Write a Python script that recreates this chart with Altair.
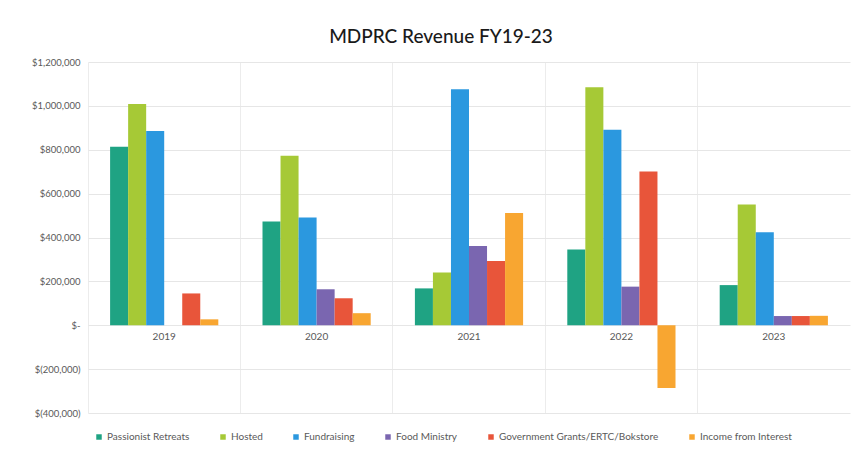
import altair as alt
import pandas as pd

years = ["2019", "2020", "2021", "2022", "2023"]
series = ["Passionist Retreats", "Hosted", "Fundraising", "Food Ministry",
          "Government Grants/ERTC/Bokstore", "Income from Interest"]
colors = ["#1fa383", "#a6c936", "#2b98df", "#7a66b0", "#e8553a", "#f8a631"]

passionist = [814000, 473000, 168000, 345000, 183000]
hosted = [1009000, 773000, 240000, 1085000, 550000]
fundraising = [886000, 491000, 1076000, 891000, 424000]
food = [0, 164000, 361000, 176000, 42000]
grants = [145000, 123000, 293000, 701000, 42000]
interest = [27000, 55000, 512000, -286000, 43000]

values = [passionist, hosted, fundraising, food, grants, interest]
rows = []
for s, vals in zip(series, values):
    for y, v in zip(years, vals):
        rows.append({"Year": y, "Series": s, "Value": v})
df = pd.DataFrame(rows)
labels_df = pd.DataFrame({"Year": years, "Zero": [0] * len(years)})

FONT = "Lato"
xscale = alt.Scale(domain=years, paddingInner=0.29, paddingOuter=0.145)
yscale = alt.Scale(domain=[-400000, 1200000], nice=False)

label_expr = ("datum.value == 0 ? '$-' : (datum.value < 0 ? '$(' + format(-datum.value, ',') + ')' "
              ": '$' + format(datum.value, ','))")

bars = alt.Chart(df).mark_bar().encode(
    x=alt.X("Year:N", scale=xscale, title=None,
            axis=alt.Axis(labels=False, ticks=False, domain=False, grid=True,
                          bandPosition=-0.204, gridColor="#ececec")),
    xOffset=alt.XOffset("Series:N", sort=series),
    y=alt.Y("Value:Q", scale=yscale, title=None,
            axis=alt.Axis(values=list(range(-400000, 1200001, 200000)), labelExpr=label_expr,
                          ticks=False, domain=False, gridColor="#e6e6e6",
                          labelColor="#595959", labelFontSize=9.5, labelPadding=8)),
    color=alt.Color("Series:N", sort=series,
                    scale=alt.Scale(domain=series, range=colors),
                    legend=alt.Legend(title=None, orient="none", direction="horizontal",
                                      legendX=6, legendY=370, symbolType="square",
                                      symbolSize=30, labelFontSize=10, labelColor="#595959",
                                      columnPadding=28, symbolOffset=0, labelOffset=3)),
)

year_text = alt.Chart(labels_df).mark_text(dy=12, fontSize=10, color="#595959", font=FONT).encode(
    x=alt.X("Year:N", scale=xscale),
    y=alt.Y("Zero:Q", scale=yscale),
    text="Year:N",
)

chart = alt.layer(bars, year_text).properties(
    width=762, height=351,
    autosize=alt.AutoSizeParams(type="none"),
    padding={"left": 88, "top": 62, "right": 13, "bottom": 46},
    title=alt.TitleParams("MDPRC Revenue FY19-23", fontSize=19, fontWeight=500,
                          font=FONT, color="#1a1a1a", offset=10, dx=-28),
).configure(font=FONT).configure_view(stroke=None)

chart.save("out.html", embed_options={"renderer": "svg", "actions": False})
